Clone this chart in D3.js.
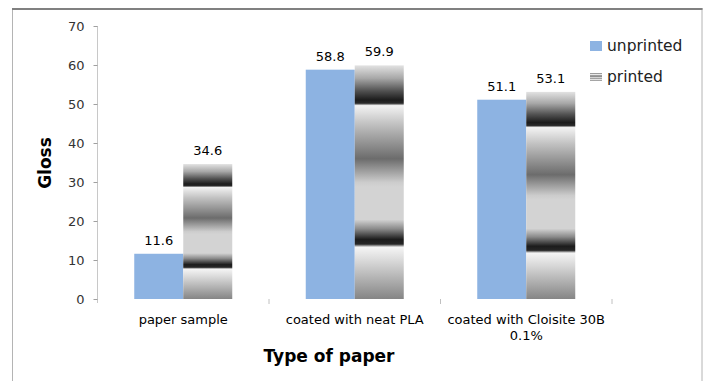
<!DOCTYPE html>
<html>
<head>
<meta charset="utf-8">
<script src="https://cdn.jsdelivr.net/npm/d3@7"></script>
<style>
  html, body { margin: 0; padding: 0; background: #fff; }
  svg { display: block; }
  text { font-family: "DejaVu Sans", sans-serif; }
</style>
</head>
<body>
<svg id="chart" width="707" height="381"></svg>
<script>
// Gloss of paper samples, unprinted vs printed
const categories = ["paper sample", "coated with neat PLA", "coated with Cloisite 30B 0.1%"];
const categoryLines = [["paper sample"], ["coated with neat PLA"], ["coated with Cloisite 30B", "0.1%"]];
const seriesNames = ["unprinted", "printed"];
const unprinted = [11.6, 58.8, 51.1];
const printed = [34.6, 59.9, 53.1];
const yTicks = [0, 10, 20, 30, 40, 50, 60, 70];

const svg = d3.select("#chart");

// outer chart frame
svg.append("rect").attr("x", 12.5).attr("y", 8.5).attr("width", 689.5).attr("height", 380)
  .attr("fill", "#fff").attr("stroke", "#b4b4b4").attr("stroke-width", 1);
svg.append("line").attr("x1", 12).attr("x2", 702.5).attr("y1", 9).attr("y2", 9)
  .attr("stroke", "#808080").attr("stroke-width", 2);

// banded grey fill used for the printed bars
const defs = svg.append("defs");
const grad = defs.append("linearGradient").attr("id", "printedFill")
  .attr("x1", 0).attr("y1", 0).attr("x2", 0).attr("y2", 1);
[
  [0.00, "#e2e2e2"], [0.055, "#a8a8a8"], [0.11, "#505050"], [0.148, "#1c1c1c"],
  [0.162, "#2a2a2a"], [0.172, "#f3f3f3"], [0.25, "#c2c2c2"], [0.40, "#6c6c6c"],
  [0.50, "#cccccc"], [0.52, "#d3d3d3"], [0.66, "#d3d3d3"], [0.70, "#8a8a8a"],
  [0.745, "#1c1c1c"], [0.765, "#262626"], [0.778, "#f5f5f5"], [0.85, "#d2d2d2"],
  [1.00, "#858585"]
].forEach(([o, c]) => grad.append("stop").attr("offset", o).attr("stop-color", c));

const x0 = 97.5, x1 = 612, yTop = 26, yBase = 299;
const x = d3.scaleBand().domain(categories).range([x0, x1]).paddingInner(0).paddingOuter(0);
const xs = d3.scaleBand().domain(seriesNames).range([0, x.bandwidth()]).paddingInner(0).paddingOuter(0.75);
const y = d3.scaleLinear().domain([0, 70]).range([yBase, yTop]);

const colors = { unprinted: "#8db3e2", printed: "url(#printedFill)" };

// y axis
const yAxis = svg.append("g").attr("transform", `translate(${x0},0)`)
  .call(d3.axisLeft(y).tickValues(yTicks).tickSize(4).tickPadding(9).tickFormat(d3.format("d")));
yAxis.select(".domain").attr("stroke", "#c8c8c8").attr("d", `M0,${yTop}V${yBase + 4}`);
yAxis.selectAll(".tick line").attr("stroke", "#a0a0a0");
yAxis.selectAll(".tick text").attr("fill", "#333").style("font-size", "13px")
  .style("font-family", "DejaVu Sans, sans-serif");

// category boundary ticks
const bounds = categories.map(c => x(c)).concat([x1]);
svg.append("g").selectAll("line").data(bounds.slice(1)).join("line")
  .attr("x1", d => d).attr("x2", d => d).attr("y1", yBase).attr("y2", yBase + 5)
  .attr("stroke", "#c0c0c0");

// bars
const rows = categories.map((c, i) => ({ cat: c, values: [
  { s: "unprinted", v: unprinted[i] }, { s: "printed", v: printed[i] } ] }));
const groups = svg.append("g").selectAll("g").data(rows).join("g")
  .attr("transform", d => `translate(${x(d.cat)},0)`);
groups.selectAll("rect").data(d => d.values).join("rect")
  .attr("x", d => xs(d.s)).attr("width", xs.bandwidth())
  .attr("y", d => y(d.v)).attr("height", d => yBase - y(d.v))
  .attr("fill", d => colors[d.s]);
groups.selectAll("text.val").data(d => d.values).join("text").attr("class", "val")
  .attr("x", d => xs(d.s) + xs.bandwidth() / 2).attr("y", d => y(d.v) - 9)
  .attr("text-anchor", "middle").style("font-size", "13px").attr("fill", "#000")
  .text(d => d.v.toFixed(1));

// category labels
const catG = svg.append("g").selectAll("text").data(categories).join("text")
  .attr("x", d => x(d) + x.bandwidth() / 2).attr("y", 324)
  .attr("text-anchor", "middle").style("font-size", "13px").attr("fill", "#000");
catG.each(function(d, i) {
  const t = d3.select(this);
  categoryLines[i].forEach((line, j) => {
    t.append("tspan").attr("x", x(d) + x.bandwidth() / 2).attr("dy", j === 0 ? 0 : 16).text(line);
  });
});

// axis titles
svg.append("text").attr("x", 329).attr("y", 362).attr("text-anchor", "middle")
  .style("font-size", "17px").style("font-weight", "bold").attr("fill", "#000").text("Type of paper");
svg.append("text").attr("transform", "translate(51,163) rotate(-90)").attr("text-anchor", "middle")
  .style("font-size", "17px").style("font-weight", "bold").attr("fill", "#000").text("Gloss");

// legend
const legend = svg.append("g").attr("transform", "translate(590,40)");
const li = legend.selectAll("g").data(seriesNames).join("g")
  .attr("transform", (d, i) => `translate(0,${i * 31})`);
li.append("rect").attr("width", 12).attr("height", d => d === "printed" ? 8 : 10)
  .attr("y", d => d === "printed" ? 2 : 1).attr("fill", d => colors[d]);
li.append("text").attr("x", 17).attr("y", 11).style("font-size", "15.5px").attr("fill", "#222").text(d => d);
</script>
</body>
</html>
